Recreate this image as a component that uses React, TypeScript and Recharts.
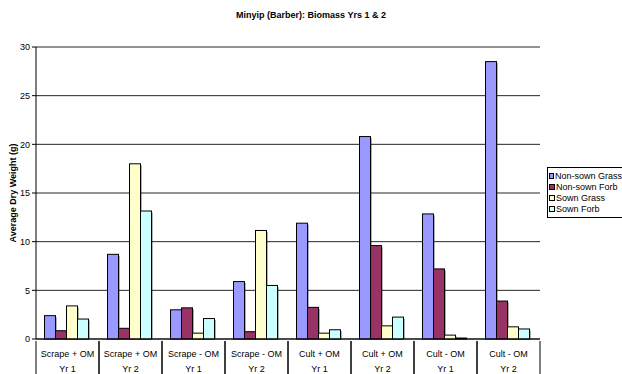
import { BarChart, Bar, XAxis, YAxis, CartesianGrid } from "recharts"

const treatments = ["Scrape + OM", "Scrape + OM", "Scrape - OM", "Scrape - OM", "Cult + OM", "Cult + OM", "Cult - OM", "Cult - OM"]
const years = ["Yr 1", "Yr 2", "Yr 1", "Yr 2", "Yr 1", "Yr 2", "Yr 1", "Yr 2"]

const nonSownGrass = [2.4, 8.7, 3.0, 5.9, 11.9, 20.8, 12.85, 28.5]
const nonSownForb = [0.85, 1.1, 3.2, 0.75, 3.25, 9.6, 7.2, 3.9]
const sownGrass = [3.4, 18.0, 0.6, 11.15, 0.6, 1.35, 0.4, 1.25]
const sownForb = [2.05, 13.15, 2.1, 5.5, 0.95, 2.25, 0.1, 1.03]

const yTicks = [0, 5, 10, 15, 20, 25, 30]

const series = [
    { key: "nonSownGrass", name: "Non-sown Grass", color: "#9999FF" },
    { key: "nonSownForb", name: "Non-sown Forb", color: "#993366" },
    { key: "sownGrass", name: "Sown Grass", color: "#FFFFCC" },
    { key: "sownForb", name: "Sown Forb", color: "#CCFFFF" },
]

const data = treatments.map((t, i) => ({
    id: `${i}`,
    treatment: t,
    year: years[i],
    nonSownGrass: nonSownGrass[i],
    nonSownForb: nonSownForb[i],
    sownGrass: sownGrass[i],
    sownForb: sownForb[i],
}))

const font = "'Liberation Sans', Arial, sans-serif"

function CategoryTick(props: any) {
    const { x, y, payload } = props
    const idx = Number(payload.value)
    const half = payload.offset || 31.5
    return (
        <g>
            <line x1={x - half} y1={y} x2={x - half} y2={y + 36} stroke="#000" strokeWidth={1} />
            <line x1={x + half} y1={y} x2={x + half} y2={y + 36} stroke="#000" strokeWidth={1} />
            <text x={x} y={y + 15.5} textAnchor="middle" fontSize={9} fontFamily={font} fill="#000">
                {treatments[idx]}
            </text>
            <text x={x} y={y + 30.5} textAnchor="middle" fontSize={9} fontFamily={font} fill="#000">
                {years[idx]}
            </text>
        </g>
    )
}

// bar with the faint excel-style drop shadow on the right
function ShadowBar(props: any) {
    const { x, y, width, height, fill } = props
    if (!height || height <= 0) return null
    return (
        <g>
            <rect x={x + 1.5} y={y + 1.5} width={width} height={height - 1.5} fill="#000" fillOpacity={0.3} />
            <rect x={x} y={y} width={width} height={height} fill={fill} stroke="#000" strokeWidth={1} />
        </g>
    )
}

function LegendBox() {
    return (
        <div style={{ position: "absolute", left: 547, top: 167, border: "1px solid #000", background: "#fff", padding: "2px 0 3px 1px", width: 76, boxSizing: "border-box", fontFamily: font, fontSize: 9, color: "#000" }}>
            {series.map((s) => (
                <div key={s.key} style={{ display: "flex", alignItems: "center", height: 11, whiteSpace: "nowrap" }}>
                    <span style={{ display: "inline-block", width: 4, height: 4, background: s.color, border: "1px solid #000", marginRight: 1 }} />
                    {s.name}
                </div>
            ))}
        </div>
    )
}

export default function App() {
    return (
        <div style={{ position: "absolute", left: 0, top: 0, width: 622, height: 374, background: "#fff", overflow: "hidden" }}>
            <div style={{ position: "absolute", left: 0, top: 10, width: 622, textAlign: "center", fontFamily: font, fontSize: 9, fontWeight: "bold", color: "#000" }}>
                Minyip (Barber): Biomass Yrs 1 &amp; 2
            </div>
            <BarChart width={622} height={374} data={data} margin={{ top: 47, right: 82, left: 0, bottom: 0 }} barCategoryGap="13.5%" barGap={0}>
                <CartesianGrid horizontal vertical={false} stroke="#000" strokeOpacity={0.85} />
                <XAxis dataKey="id" height={35} tickLine={false} tickSize={0} axisLine={{ stroke: "#000" }} tick={<CategoryTick />} interval={0} />
                <YAxis
                    width={36}
                    domain={[0, 30]}
                    ticks={yTicks}
                    tickSize={4}
                    tickMargin={2}
                    axisLine={{ stroke: "#000" }}
                    tickLine={{ stroke: "#000" }}
                    tick={{ fontSize: 9, fill: "#000", fontFamily: font }}
                    label={{
                        content: (p: any) => {
                            const vb = p.viewBox || { y: 47, height: 292 }
                            const cy = vb.y + vb.height / 2
                            return (
                                <text x={13} y={cy} transform={`rotate(-90 13 ${cy})`} textAnchor="middle" dominantBaseline="central" fontSize={9} fontWeight="bold" fontFamily={font} fill="#000">
                                    Average Dry Weight (g)
                                </text>
                            )
                        },
                    }}
                />
                {series.map((s) => (
                    <Bar key={s.key} dataKey={s.key} name={s.name} fill={s.color} shape={<ShadowBar />} isAnimationActive={false} />
                ))}
            </BarChart>
            <LegendBox />
        </div>
    )
}
